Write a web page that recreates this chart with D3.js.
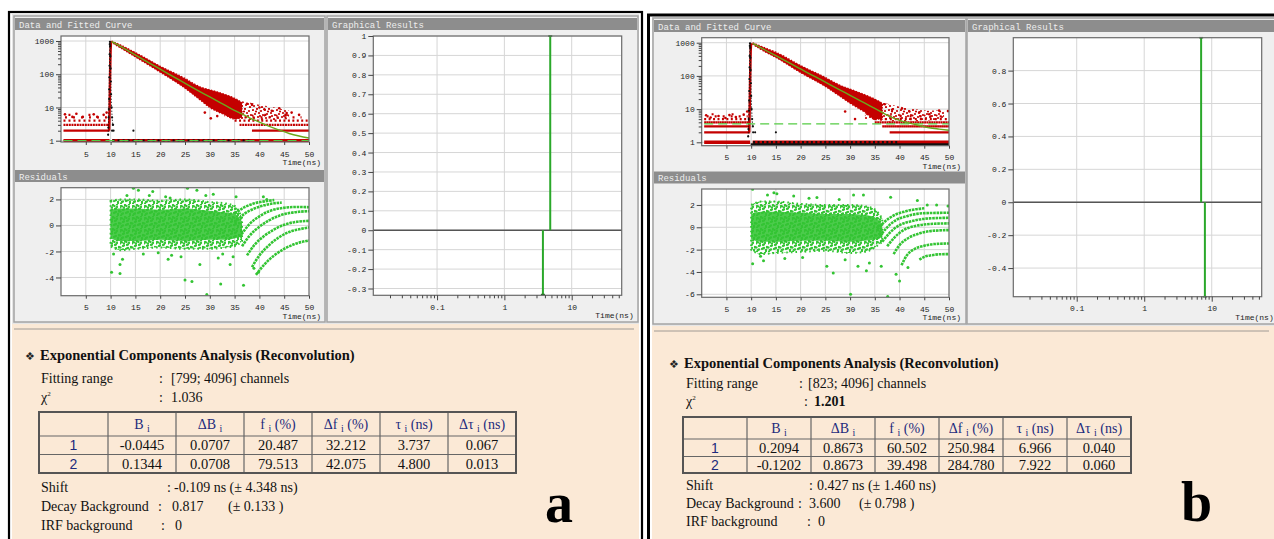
<!DOCTYPE html>
<html>
<head>
<meta charset="utf-8">
<script src="https://cdn.jsdelivr.net/npm/d3@7"></script>
<style>
  body { margin: 0; background: #ffffff; }
  svg { display: block; }
</style>
</head>
<body>
<div id="chart"></div>
<script>
// tick values shared by both samples
var timeTicks = [5, 10, 15, 20, 25, 30, 35, 40, 45, 50];
var countTicks = [1, 10, 100, 1000];
var countMinorTicks = [2, 3, 4, 5, 6, 7, 8, 9, 20, 30, 40, 50, 60, 70, 80, 90, 200, 300, 400, 500, 600, 700, 800, 900];
var lifeTicks = [0.1, 1, 10];
var lifeMinorTicks = [0.02, 0.03, 0.04, 0.05, 0.06, 0.07, 0.08, 0.09, 0.2, 0.3, 0.4, 0.5, 0.6, 0.7, 0.8, 0.9,
  2, 3, 4, 5, 6, 7, 8, 9, 20, 30, 40, 50];
var tableHeads = [["B", "i", ""], ["\u0394B", "i", ""], ["f", "i", " (%)"], ["\u0394f", "i", " (%)"], ["\u03c4", "i", " (ns)"], ["\u0394\u03c4", "i", " (ns)"]];

// ---------- sample a ----------
var fitTimeA = [10.2, 11, 12, 14, 16, 18, 20, 22, 24, 26, 28, 30, 32, 34, 36, 38, 40, 42, 44, 46, 48, 50];
var fitCountA = [950, 832, 684, 461, 311, 210, 142, 96, 65, 44, 30, 20.7, 14.2, 9.8, 6.9, 4.9, 3.6, 2.7, 2.1, 1.65, 1.38, 1.2];
var cloudTimeA = [10.2, 12, 15, 20, 25, 28, 30, 33, 35, 36.5];
var cloudHighA = [1000, 760, 450, 175, 75, 42, 34, 25, 19, 14];
var cloudLowA = [900, 620, 330, 115, 38, 17, 10, 6, 4.5, 5];
var sparseTimeA = [33, 36, 38, 40, 43, 46];
var sparseHighA = [22, 16, 14, 12, 10, 8];
var sparseLowA = [5, 4.5, 4.2, 4.2, 4.2, 4.5];
var riseTimeA = [9.7, 9.75, 9.8, 9.85, 9.9, 9.95, 10.0, 10.05, 10.1, 10.2];
var riseCountA = [2, 4, 10, 30, 100, 280, 560, 800, 920, 960];
var irfTimeA = [9.5, 9.55, 9.6, 9.65, 9.7, 9.72, 9.75, 9.78, 9.8, 9.83, 9.86, 9.9, 9.95, 10.0, 10.05, 10.1, 10.2, 10.3, 10.45];
var irfCountA = [1.5, 2.5, 5, 9, 18, 35, 80, 180, 400, 800, 950, 700, 350, 150, 60, 25, 10, 5, 3];
var rowLevelA = [1, 2, 3, 4, 5, 6, 1, 2, 3, 4, 5, 6];
var rowFromA = [0.5, 0.5, 0.5, 0.5, 0.8, 1.5, 10.3, 38.5, 36, 35, 37, 41];
var rowToA = [9.8, 9.8, 9.8, 9.7, 9.5, 8, 50, 50, 50, 50, 48.5, 46];
var rowFillA = [1, 1, 0.75, 0.4, 0.25, 0.1, 1, 1, 0.75, 0.45, 0.25, 0.1];
var blackRowLevelA = [1];
var blackRowFromA = [10.4];
var blackRowToA = [38];
var blackRowFillA = [0.4];
var redDotsA = [[0.8, 6.2], [2.3, 5.2], [3.1, 6.5], [4.4, 5.2], [6.6, 6.2], [7.3, 5.2], [8.6, 6], [9.2, 7], [29, 7],
  [30.2, 4.7], [31.5, 5.5], [33, 7.5], [34.3, 16], [36, 11], [37.5, 13], [38.5, 12], [40, 10], [41, 8.8],
  [42.5, 8], [44, 9.5], [45.5, 6.8], [46.5, 7], [48, 6]];
var blackDotsA = [[10.3, 2], [10.6, 2], [14.6, 2], [10.5, 3]];
var residTimeA = [10, 12, 15, 20, 25, 30, 33, 35, 36.5];
var residHighA = [1.9, 2.0, 2.0, 1.9, 2.0, 1.8, 1.7, 1.5, 0.6];
var residLowA = [-1.6, -1.9, -1.8, -1.7, -1.8, -1.8, -1.7, -1.6, -1.2];
var residCoreHighA = [1.2, 1.3, 1.3, 1.2, 1.3, 1.1, 1.0, 0.9, 0.3];
var residCoreLowA = [-1.0, -1.2, -1.2, -1.1, -1.2, -1.1, -1.1, -1.0, -0.8];
var residDotsA = [[10.2, -3.6], [11.9, -3.0], [11.9, -3.7], [12.4, -2.6], [10.6, -2.2], [25.0, -4.2], [26.4, -4.3],
  [32.2, -4.5], [29.4, -5.3], [36.8, -4.6], [14.6, 2.85], [25.5, 2.85], [15.6, 2.7], [18.5, 2.6], [21.1, 2.2],
  [22, 2.1], [27.4, 2.7], [30.7, 2.4], [35.3, 2.2], [40.8, 2.2], [41.5, 2.0], [16.6, -2.2], [21.6, -2.6],
  [22.3, -2.3], [28, -3.0], [31.7, -2.5], [32.6, -2.2], [34.1, -3.0], [34.7, -2.4], [13.3, 2.3], [19.6, -2.1],
  [24.2, -2.4], [17.8, 2.3], [29.2, 2.3], [38.9, -3.3], [39.8, -3.6]];
var residArcsA = [
  [[35, 0.9], [37, 1.4], [39, 1.7], [41, 1.85], [43, 1.95]],
  [[35, 0.2], [37, 0.9], [39, 1.3], [41, 1.55], [43, 1.7], [44.5, 1.75]],
  [[36, -0.9], [38, 0.1], [40, 0.7], [42, 1.1], [44, 1.3], [46, 1.4], [48, 1.42], [50, 1.4]],
  [[36.5, -1.6], [38, -0.8], [40, -0.1], [42, 0.4], [44, 0.75], [46, 0.95], [48, 1.05], [50, 1.1]],
  [[37.5, -2.3], [39, -1.5], [41, -0.8], [43, -0.3], [45, 0.05], [47, 0.25], [50, 0.35]],
  [[38.5, -3.2], [40, -2.3], [42, -1.5], [44, -0.9], [46, -0.5], [48, -0.3], [50, -0.15]],
  [[39.3, -3.8], [41, -3.0], [43, -2.3], [45, -1.8], [47, -1.45], [50, -1.15]]
];
var residTicksA = [-4, -2, 0, 2];
var ampA = [-0.0445, 0.1344];
var dAmpA = [0.0707, 0.0708];
var fracA = [20.487, 79.513];
var dFracA = [32.212, 42.075];
var tauA = [3.737, 4.800];
var dTauA = [0.067, 0.013];
var ampTicksA = [-0.3, -0.2, -0.1, 0, 0.1, 0.2, 0.3, 0.4, 0.5, 0.6, 0.7, 0.8, 0.9, 1];
var fitRangeA = [799, 4096];
var chiA = 1.036;
var shiftA = [-0.109, 4.348];
var backgroundA = [0.817, 0.133];
var irfBackgroundA = 0;

// ---------- sample b ----------
var fitTimeB = [10.3, 11, 12, 14, 16, 18, 20, 22, 24, 26, 28, 30, 32, 34, 36, 38, 40, 42, 44, 46, 48, 50];
var fitCountB = [950, 840, 700, 485, 337, 234, 162, 112, 78, 54, 37.6, 26, 18.1, 12.5, 8.7, 6.0, 4.6, 3.8, 3.2, 2.75, 2.5, 2.3];
var cloudTimeB = [10.3, 12, 15, 20, 25, 28, 30, 33, 35, 36.5];
var cloudHighB = [1000, 780, 520, 205, 90, 52, 40, 27, 20, 15];
var cloudLowB = [900, 620, 360, 125, 48, 24, 15, 8, 5, 5];
var sparseTimeB = [33, 36, 38, 40, 43, 46, 49];
var sparseHighB = [24, 17, 14, 12, 10, 9, 9];
var sparseLowB = [5, 4.5, 4.2, 4.2, 4.2, 4.5, 5];
var riseTimeB = [9.6, 9.65, 9.7, 9.75, 9.8, 9.85, 9.9, 9.95, 10.0, 10.1];
var riseCountB = [2, 4, 10, 30, 100, 280, 560, 800, 920, 960];
var irfTimeB = [9.4, 9.45, 9.5, 9.55, 9.6, 9.62, 9.65, 9.68, 9.7, 9.73, 9.76, 9.8, 9.85, 9.9, 9.95, 10.0, 10.1, 10.2, 10.35];
var irfCountB = [1.5, 2.5, 5, 9, 18, 35, 80, 180, 400, 800, 950, 700, 350, 150, 60, 25, 10, 5, 3];
var rowLevelB = [1, 2, 3, 4, 5, 6, 7, 1, 2, 3, 4, 5, 6];
var rowFromB = [0.5, 0.5, 0.5, 0.5, 0.5, 1, 2, 10.3, 38, 36.5, 35, 35, 38];
var rowToB = [9.8, 9.8, 9.8, 9.8, 9.5, 9.3, 8.5, 50, 50, 50, 50, 50, 50];
var rowFillB = [1, 1, 1, 0.9, 0.45, 0.25, 0.1, 1, 1, 0.95, 0.85, 0.4, 0.2];
var blackRowLevelB = [1, 0];
var blackRowFromB = [10.4, 9.9];
var blackRowToB = [40, 50];
var blackRowFillB = [0.45, 1];
var redDotsB = [[0.9, 6.5], [1.8, 5.6], [3.4, 6.2], [4.8, 5.4], [5.6, 6.6], [6.9, 5.8], [8.5, 6.8], [9.2, 8.5],
  [29, 8.5], [31, 5], [33, 22], [35.5, 12], [37, 14], [38.5, 9.5], [40.5, 10.5], [42, 8.5], [44, 8], [46, 7],
  [48, 9], [49.8, 8.7]];
var blackDotsB = [[10.4, 2], [10.8, 2], [15, 2]];
var residTimeB = [10, 12, 15, 20, 25, 30, 33, 35, 36.5];
var residHighB = [2.0, 2.3, 2.3, 2.1, 2.0, 2.0, 1.9, 1.6, 0.8];
var residLowB = [-2.0, -2.4, -2.3, -2.2, -2.1, -2.3, -2.2, -1.8, -1.3];
var residCoreHighB = [1.2, 1.4, 1.4, 1.3, 1.2, 1.2, 1.1, 0.9, 0.3];
var residCoreLowB = [-1.1, -1.3, -1.3, -1.2, -1.2, -1.3, -1.2, -1.1, -0.9];
var residDotsB = [[10.3, 3.4], [13.3, 2.9], [14.6, 3.1], [15.2, 3.0], [18.6, 2.8], [23.3, 2.66], [30.7, 2.9],
  [32.7, 2.9], [10.3, -3.26], [11.9, -2.6], [25.3, -3.5], [26.6, -4.1], [30.1, -6.0], [31.6, -3.5], [33.3, -3.9],
  [33.9, -3.2], [36.3, -3.5], [37.6, -6.2], [39.3, -4.2], [40, -4.8], [41.7, -3.6], [38.2, 2.7], [43.6, 2.4],
  [45.6, 2.0], [12.5, -3.0], [16.8, -2.8], [20.4, -2.7], [27.8, 2.5], [21.7, 2.6], [29, -2.9], [47.5, 2.0], [49.8, 1.9]];
var residArcsB = [
  [[35.5, -0.2], [37, 0.5], [39, 1.1], [41, 1.4], [43, 1.6], [45, 1.7]],
  [[36, -0.8], [37.5, 0], [39.5, 0.7], [41.5, 1.0], [43.5, 1.2], [46, 1.28], [50, 1.3]],
  [[36.5, -1.3], [38, -0.5], [40, 0.2], [42, 0.5], [44, 0.7], [46, 0.8], [50, 0.85]],
  [[37.5, -1.7], [39, -0.9], [41, -0.2], [43, 0.1], [45, 0.25], [47, 0.32], [50, 0.35]],
  [[38.8, -2.4], [40, -1.6], [42, -0.9], [44, -0.55], [46, -0.35], [48, -0.28], [50, -0.25]],
  [[40.4, -3.4], [41.5, -2.5], [43, -1.95], [45, -1.65], [47, -1.5], [50, -1.45]],
  [[44, -2.9], [45, -2.65], [46.5, -2.5], [48, -2.42], [50, -2.4]]
];
var residTicksB = [-6, -4, -2, 0, 2];
var ampB = [0.2094, -0.1202];
var dAmpB = [0.8673, 0.8673];
var fracB = [60.502, 39.498];
var dFracB = [250.984, 284.780];
var tauB = [6.966, 7.922];
var dTauB = [0.040, 0.060];
var ampTicksB = [-0.4, -0.2, 0, 0.2, 0.4, 0.6, 0.8];
var fitRangeB = [823, 4096];
var chiB = 1.201;
var shiftB = [0.427, 1.460];
var backgroundB = [3.600, 0.798];
var irfBackgroundB = 0;

// colours and fonts
var mono = "'Liberation Mono', 'Courier New', monospace";
var serif = "'Liberation Serif', 'Times New Roman', serif";
var red = "#c40000";
var green = "#33c433";
var navy = "#1d2b7d";

// layout of the two screenshots
var panels = [
  {
    id: "a",
    frame: { x: 9, y: 12, w: 633, sw: 2.2 },
    inner: { x: 12, y: 14, w: 627, h: 310 },
    panes: [{ x: 14, y: 16, w: 311, h: 306 }, { x: 327, y: 16, w: 311, h: 306 }],
    bars: [{ x: 15, y: 18, w: 309, t: "Data and Fitted Curve" }, { x: 15, y: 170, w: 309, t: "Residuals" },
      { x: 328, y: 18, w: 309, t: "Graphical Results" }],
    decay: { x0: 61, x1: 309, y0: 36, y1: 142 }, decayDomain: [0.914, 1414],
    resid: { x0: 61, x1: 309, y0: 187.7, y1: 295.7 }, residDomain: [-5.4, 2.9],
    graph: { x0: 373.3, x1: 621.7, y0: 36, y1: 295.3 }, lifeDomain: [0.0113, 55.3], ampDomain: [-0.335, 1],
    beige: { x: 12, y: 324, w: 627, h: 215, lineY: 329 },
    text: { bullet: 25, head: 40, x: 41, headY: 360, fitY: 383, chiY: 402, shiftY: 492, bgY: 511, irfY: 530,
      colon: [159, 159, 167, 158, 161], val: [171, 171, 174, 172, 175], errX: 228, chiBold: false,
      table: { x: 39, y: 412, first: 69, col: 68, rowH: [24, 18.5, 18.5] }, letter: { x: 545, y: 522 } },
    fitTime: fitTimeA, fitCount: fitCountA, cloudTime: cloudTimeA, cloudHigh: cloudHighA, cloudLow: cloudLowA,
    sparseTime: sparseTimeA, sparseHigh: sparseHighA, sparseLow: sparseLowA,
    riseTime: riseTimeA, riseCount: riseCountA, irfTime: irfTimeA, irfCount: irfCountA,
    rowLevel: rowLevelA, rowFrom: rowFromA, rowTo: rowToA, rowFill: rowFillA,
    blackLevel: blackRowLevelA, blackFrom: blackRowFromA, blackTo: blackRowToA, blackFill: blackRowFillA,
    redDots: redDotsA, blackDots: blackDotsA,
    residTime: residTimeA, residHigh: residHighA, residLow: residLowA, coreHigh: residCoreHighA, coreLow: residCoreLowA,
    residDots: residDotsA, arcs: residArcsA, residTicks: residTicksA,
    amp: ampA, dAmp: dAmpA, frac: fracA, dFrac: dFracA, tau: tauA, dTau: dTauA, ampTicks: ampTicksA,
    fitRange: fitRangeA, chi: chiA, shift: shiftA, background: backgroundA, irfBackground: irfBackgroundA
  },
  {
    id: "b",
    frame: { x: 648.5, y: 15, w: 640, sw: 3 },
    inner: { x: 652, y: 17, w: 622, h: 309 },
    panes: [{ x: 653, y: 18, w: 313, h: 306 }, { x: 967, y: 18, w: 310, h: 306 }],
    bars: [{ x: 654, y: 20, w: 311, t: "Data and Fitted Curve" }, { x: 654, y: 171.5, w: 311, t: "Residuals" },
      { x: 968, y: 20, w: 310, t: "Graphical Results" }],
    decay: { x0: 701.7, x1: 949, y0: 37.7, y1: 145.7 }, decayDomain: [0.79, 1415],
    resid: { x0: 701.7, x1: 949, y0: 189, y1: 297.3 }, residDomain: [-6.27, 3.43],
    graph: { x0: 1013.3, x1: 1261.7, y0: 37.7, y1: 296.7 }, lifeDomain: [0.0115, 55], ampDomain: [-0.574, 1],
    beige: { x: 652, y: 326, w: 622, h: 213, lineY: 331 },
    text: { bullet: 669, head: 684, x: 686, headY: 368, fitY: 388, chiY: 406, shiftY: 490, bgY: 508, irfY: 526,
      colon: [799, 804, 809, 798, 807], val: [808, 814, 817, 809, 818], errX: 859, chiBold: true,
      table: { x: 683, y: 417, first: 64, col: 64, rowH: [22, 17.5, 16.5] }, letter: { x: 1181, y: 521 } },
    fitTime: fitTimeB, fitCount: fitCountB, cloudTime: cloudTimeB, cloudHigh: cloudHighB, cloudLow: cloudLowB,
    sparseTime: sparseTimeB, sparseHigh: sparseHighB, sparseLow: sparseLowB,
    riseTime: riseTimeB, riseCount: riseCountB, irfTime: irfTimeB, irfCount: irfCountB,
    rowLevel: rowLevelB, rowFrom: rowFromB, rowTo: rowToB, rowFill: rowFillB,
    blackLevel: blackRowLevelB, blackFrom: blackRowFromB, blackTo: blackRowToB, blackFill: blackRowFillB,
    redDots: redDotsB, blackDots: blackDotsB,
    residTime: residTimeB, residHigh: residHighB, residLow: residLowB, coreHigh: residCoreHighB, coreLow: residCoreLowB,
    residDots: residDotsB, arcs: residArcsB, residTicks: residTicksB,
    amp: ampB, dAmp: dAmpB, frac: fracB, dFrac: dFracB, tau: tauB, dTau: dTauB, ampTicks: ampTicksB,
    fitRange: fitRangeB, chi: chiB, shift: shiftB, background: backgroundB, irfBackground: irfBackgroundB
  }
];

var svg = d3.select("#chart").append("svg")
  .attr("width", 1274)
  .attr("height", 539)
  .style("font-family", serif);

// speckle fills for the scattered point clouds (irregular dots in a 12px tile)
var defs = svg.append("defs");
var tileDots = [[1, 2], [5, 1], [9, 3], [3, 6], [7, 5], [11, 7], [2, 10], [6, 9], [10, 11], [4, 3.5], [8, 8], [0.5, 7.5]];
function speckle(id, color, r, dense) {
  var pat = defs.append("pattern").attr("id", id).attr("patternUnits", "userSpaceOnUse")
    .attr("width", 12).attr("height", 12);
  var pts = dense ? tileDots.concat(tileDots.map(d => [(d[0] + 6) % 12, (d[1] + 6.5) % 12])) : tileDots;
  pat.selectAll("circle").data(pts).join("circle")
    .attr("cx", d => d[0]).attr("cy", d => d[1]).attr("r", r).attr("fill", color);
}
speckle("speckGreen", green, 1.15, true);
speckle("speckRed", red, 1.1, false);

// dash pattern from how densely a row of counts is filled
function dashFor(f) {
  return f >= 1 ? null : "2," + (2 * (1 - f) / f).toFixed(2);
}

function tidy(axisG) {
  axisG.select(".domain").remove();
  axisG.selectAll(".tick line").attr("stroke", "#444");
  axisG.selectAll(".tick text").attr("font-family", mono).attr("font-size", 8).attr("fill", "#222");
  return axisG;
}

// white plot area, grid and clip
function plotBox(g, b, clipId, xs, ys, x, y) {
  g.append("rect").attr("x", b.x0).attr("y", b.y0).attr("width", b.x1 - b.x0).attr("height", b.y1 - b.y0)
    .attr("fill", "#ffffff");
  g.append("clipPath").attr("id", clipId).append("rect")
    .attr("x", b.x0).attr("y", b.y0).attr("width", b.x1 - b.x0).attr("height", b.y1 - b.y0);
  g.append("g").selectAll("line").data(xs).join("line")
    .attr("x1", d => x(d)).attr("x2", d => x(d)).attr("y1", b.y0).attr("y2", b.y1)
    .attr("stroke", "#d6d6d6");
  g.append("g").selectAll("line").data(ys).join("line")
    .attr("x1", b.x0).attr("x2", b.x1).attr("y1", d => y(d)).attr("y2", d => y(d))
    .attr("stroke", "#d6d6d6");
}

function plotBorder(g, b) {
  g.append("rect").attr("x", b.x0).attr("y", b.y0).attr("width", b.x1 - b.x0).attr("height", b.y1 - b.y0)
    .attr("fill", "none").attr("stroke", "#6a6a6a").attr("stroke-width", 1.2);
}

function timeLabel(g, b) {
  g.append("text").attr("x", b.x1 + 12).attr("y", b.y1 + 23).attr("text-anchor", "end")
    .attr("font-family", mono).attr("font-size", 8).attr("fill", "#222").text("Time(ns)");
}

function timeAxis(g, b, x) {
  tidy(g.append("g").attr("transform", `translate(0, ${b.y1})`)
    .call(d3.axisBottom(x).tickValues(timeTicks).tickSize(3).tickPadding(6).tickFormat(d => String(d))));
  timeLabel(g, b);
}

function drawRows(g, x, y, b, levels, from, to, fill, color, width) {
  g.append("g").selectAll("line").data(d3.range(levels.length)).join("line")
    .attr("x1", i => x(from[i])).attr("x2", i => x(to[i]))
    .attr("y1", i => levels[i] === 0 ? b.y1 - 1 : y(levels[i]))
    .attr("y2", i => levels[i] === 0 ? b.y1 - 1 : y(levels[i]))
    .attr("stroke", color)
    .attr("stroke-width", i => levels[i] <= 1 ? width + 1.2 : width)
    .attr("stroke-dasharray", i => dashFor(fill[i]));
}

// Data and Fitted Curve
function drawDecay(g, p) {
  var b = p.decay;
  var x = d3.scaleLinear().domain([0, 50]).range([b.x0, b.x1]);
  var y = d3.scaleLog().domain(p.decayDomain).range([b.y1, b.y0]);
  var clipId = "clipDecay" + p.id;
  plotBox(g, b, clipId, timeTicks.slice(0, -1), countTicks, x, y);
  var c = g.append("g").attr("clip-path", `url(#${clipId})`);

  drawRows(c, x, y, b, p.rowLevel, p.rowFrom, p.rowTo, p.rowFill, red, 2.2);

  // decay cloud between the lowest and highest counts read in each slice
  var area = d3.area().x(d => x(d[0])).y0(d => y(d[1])).y1(d => y(d[2])).curve(d3.curveMonotoneX);
  c.append("path").datum(p.sparseTime.map((t, i) => [t, p.sparseLow[i], p.sparseHigh[i]])).attr("d", area)
    .attr("fill", "url(#speckRed)");
  c.append("path").datum(p.cloudTime.map((t, i) => [t, p.cloudLow[i], p.cloudHigh[i]])).attr("d", area)
    .attr("fill", red).attr("stroke", red).attr("stroke-width", 1.2).attr("stroke-dasharray", "1.5,1.5");
  c.append("g").selectAll("circle").data(p.redDots).join("circle")
    .attr("cx", d => x(d[0])).attr("cy", d => y(d[1])).attr("r", 1.3).attr("fill", red);

  // rising edge of the decay
  var rise = p.riseTime.map((t, i) => [t, p.riseCount[i]]);
  c.append("path").datum(rise).attr("d", d3.line().x(d => x(d[0])).y(d => y(d[1])))
    .attr("fill", "none").attr("stroke", red).attr("stroke-width", 2.5);

  // instrument response
  drawRows(c, x, y, b, p.blackLevel, p.blackFrom, p.blackTo, p.blackFill, "#111", 1.6);
  var irf = p.irfTime.map((t, i) => [t, p.irfCount[i]]);
  c.append("g").selectAll("circle").data(irf).join("circle")
    .attr("cx", d => x(d[0])).attr("cy", d => y(d[1])).attr("r", 1.1).attr("fill", "#111");
  c.append("path").datum(irf).attr("d", d3.line().x(d => x(d[0])).y(d => y(d[1])))
    .attr("fill", "none").attr("stroke", "#111").attr("stroke-width", 0.8).attr("stroke-dasharray", "1.5,1.5");
  c.append("g").selectAll("circle").data(p.blackDots).join("circle")
    .attr("cx", d => x(d[0])).attr("cy", d => y(d[1])).attr("r", 1.1).attr("fill", "#111");

  // background level (dashed) and fitted curve
  var yc = y.copy().clamp(true);
  var bgY = Math.min(yc(p.background[0]), b.y1 - 1.5);
  c.append("line").attr("x1", x(0.5)).attr("x2", x(50)).attr("y1", bgY).attr("y2", bgY)
    .attr("stroke", "#55cc44").attr("stroke-width", 1.2).attr("stroke-dasharray", "9,5");
  var fit = p.fitTime.map((t, i) => [t, p.fitCount[i]]);
  c.append("path").datum(fit).attr("d", d3.line().x(d => x(d[0])).y(d => y(d[1])).curve(d3.curveMonotoneX))
    .attr("fill", "none").attr("stroke", "#6aa81c").attr("stroke-width", 1.4);

  plotBorder(g, b);
  tidy(g.append("g").attr("transform", `translate(${b.x0}, 0)`)
    .call(d3.axisLeft(y).tickValues(countMinorTicks).tickSize(3).tickFormat("")));
  tidy(g.append("g").attr("transform", `translate(${b.x0}, 0)`)
    .call(d3.axisLeft(y).tickValues(countTicks).tickSize(5).tickPadding(2).tickFormat(d => String(d))));
  timeAxis(g, b, x);
}

// Residuals
function drawResid(g, p) {
  var b = p.resid;
  var x = d3.scaleLinear().domain([0, 50]).range([b.x0, b.x1]);
  var y = d3.scaleLinear().domain(p.residDomain).range([b.y1, b.y0]);
  var clipId = "clipResid" + p.id;
  plotBox(g, b, clipId, timeTicks.slice(0, -1), p.residTicks, x, y);
  var c = g.append("g").attr("clip-path", `url(#${clipId})`);

  var area = d3.area().x(d => x(d[0])).y0(d => y(d[1])).y1(d => y(d[2])).curve(d3.curveMonotoneX);
  c.append("path").datum(p.residTime.map((t, i) => [t, p.residLow[i], p.residHigh[i]])).attr("d", area)
    .attr("fill", "url(#speckGreen)")
    .attr("stroke", green).attr("stroke-width", 2).attr("stroke-dasharray", "1.6,3");
  c.append("path").datum(p.residTime.map((t, i) => [t, p.coreLow[i], p.coreHigh[i]])).attr("d", area)
    .attr("fill", green).attr("fill-opacity", 0.88);

  var line = d3.line().x(d => x(d[0])).y(d => y(d[1])).curve(d3.curveMonotoneX);
  c.append("g").selectAll("path").data(p.arcs).join("path")
    .attr("d", line).attr("fill", "none").attr("stroke", green)
    .attr("stroke-width", 2.6).attr("stroke-dasharray", "2.6,0.8");
  c.append("g").selectAll("circle").data(p.residDots).join("circle")
    .attr("cx", d => x(d[0])).attr("cy", d => y(d[1])).attr("r", 1.5).attr("fill", green);

  plotBorder(g, b);
  tidy(g.append("g").attr("transform", `translate(${b.x0}, 0)`)
    .call(d3.axisLeft(y).tickValues(p.residTicks).tickSize(5).tickPadding(2).tickFormat(d => String(d))));
  timeAxis(g, b, x);
}

// Graphical Results: normalised amplitude of each lifetime component
function drawGraph(g, p) {
  var b = p.graph;
  var x = d3.scaleLog().domain(p.lifeDomain).range([b.x0, b.x1]);
  var y = d3.scaleLinear().domain(p.ampDomain).range([b.y1, b.y0]);
  plotBox(g, b, "clipGraph" + p.id, lifeTicks, p.ampTicks, x, y);

  g.append("line").attr("x1", b.x0).attr("x2", b.x1).attr("y1", y(0)).attr("y2", y(0))
    .attr("stroke", "#555").attr("stroke-width", 1.3);

  var maxAmp = d3.max(p.amp);
  var comps = p.tau.map((t, i) => ({ tau: t, h: p.amp[i] / maxAmp }));
  g.append("g").selectAll("line").data(comps).join("line")
    .attr("x1", d => x(d.tau)).attr("x2", d => x(d.tau)).attr("y1", y(0)).attr("y2", d => y(d.h))
    .attr("stroke", "#2aa82a").attr("stroke-width", 2);
  g.append("g").selectAll("line").data(comps).join("line")
    .attr("x1", d => x(d.tau) - 2).attr("x2", d => x(d.tau) + 2).attr("y1", d => y(d.h)).attr("y2", d => y(d.h))
    .attr("stroke", "#1d6d1d").attr("stroke-width", 1.5);

  plotBorder(g, b);
  tidy(g.append("g").attr("transform", `translate(${b.x0}, 0)`)
    .call(d3.axisLeft(y).tickValues(p.ampTicks).tickSize(5).tickPadding(2)
      .tickFormat(d => String(+d.toFixed(1)))));
  tidy(g.append("g").attr("transform", `translate(0, ${b.y1})`)
    .call(d3.axisBottom(x).tickValues(lifeMinorTicks).tickSize(3).tickFormat("")));
  tidy(g.append("g").attr("transform", `translate(0, ${b.y1})`)
    .call(d3.axisBottom(x).tickValues(lifeTicks).tickSize(5).tickPadding(4).tickFormat(d => String(d))));
  timeLabel(g, b);
}

// report block under the plots
function drawReport(g, p) {
  var t = p.text;
  var fs = 14;
  g.append("text").attr("x", t.bullet).attr("y", t.headY).attr("font-family", "'DejaVu Sans', sans-serif")
    .attr("font-size", 11).attr("fill", "#222").text("\u2756");
  g.append("text").attr("x", t.head).attr("y", t.headY).attr("font-size", 14.5).attr("font-weight", "bold")
    .attr("fill", "#111").text("Exponential Components Analysis (Reconvolution)");

  var lines = [
    { y: t.fitY, label: "Fitting range", value: "[" + p.fitRange[0] + "; " + p.fitRange[1] + "] channels" },
    { y: t.chiY, label: "", value: p.chi.toFixed(3), bold: t.chiBold },
    { y: t.shiftY, label: "Shift", value: p.shift[0].toFixed(3) + " ns (\u00b1 " + p.shift[1].toFixed(3) + " ns)" },
    { y: t.bgY, label: "Decay Background", value: p.background[0].toFixed(3) },
    { y: t.irfY, label: "IRF background", value: String(p.irfBackground) }
  ];
  lines.forEach(function (l, i) {
    g.append("text").attr("x", t.x).attr("y", l.y).attr("font-size", fs).attr("fill", "#111").text(l.label);
    g.append("text").attr("x", t.colon[i]).attr("y", l.y).attr("font-size", fs).attr("fill", "#111").text(":");
    g.append("text").attr("x", t.val[i]).attr("y", l.y).attr("font-size", fs).attr("fill", "#111")
      .attr("font-weight", l.bold ? "bold" : null).text(l.value);
  });
  var chi = g.append("text").attr("x", t.x).attr("y", t.chiY).attr("font-size", fs).attr("fill", "#111");
  chi.append("tspan").text("\u03c7");
  chi.append("tspan").attr("font-size", 7).attr("dy", -6).text("2");
  g.append("text").attr("x", t.errX).attr("y", t.bgY).attr("font-size", fs).attr("fill", "#111")
    .text("(\u00b1 " + p.background[1].toFixed(3) + " )");

  // component table
  var tb = t.table;
  var colX = [tb.x, tb.x + tb.first];
  for (var k = 1; k <= 6; k++) colX.push(tb.x + tb.first + k * tb.col);
  var rowY = [tb.y];
  tb.rowH.forEach(h => rowY.push(rowY[rowY.length - 1] + h));
  var tg = g.append("g");
  tg.selectAll(".hl").data(rowY).join("line")
    .attr("x1", colX[0]).attr("x2", colX[7]).attr("y1", d => d).attr("y2", d => d)
    .attr("stroke", "#666").attr("stroke-width", 1.2);
  tg.selectAll(".vl").data(colX).join("line")
    .attr("x1", d => d).attr("x2", d => d).attr("y1", rowY[0]).attr("y2", rowY[3])
    .attr("stroke", "#666").attr("stroke-width", 1.2);
  tg.append("rect").attr("x", colX[0]).attr("y", rowY[0]).attr("width", colX[7] - colX[0])
    .attr("height", rowY[3] - rowY[0]).attr("fill", "none").attr("stroke", "#555").attr("stroke-width", 2);

  tableHeads.forEach(function (h, j) {
    var cx = (colX[j + 1] + colX[j + 2]) / 2;
    var tx = tg.append("text").attr("x", cx).attr("y", (rowY[0] + rowY[1]) / 2 + 5)
      .attr("text-anchor", "middle").attr("font-size", 14).attr("fill", navy);
    tx.append("tspan").text(h[0] + " ");
    tx.append("tspan").attr("font-size", 10).attr("dy", 3).text(h[1]);
    tx.append("tspan").attr("dy", -3).text(h[2]);
  });
  var cols = [p.amp.map(v => v.toFixed(4)), p.dAmp.map(v => v.toFixed(4)), p.frac.map(v => v.toFixed(3)),
    p.dFrac.map(v => v.toFixed(3)), p.tau.map(v => v.toFixed(3)), p.dTau.map(v => v.toFixed(3))];
  [0, 1].forEach(function (r) {
    var cy = (rowY[r + 1] + rowY[r + 2]) / 2 + 5;
    tg.append("text").attr("x", (colX[0] + colX[1]) / 2).attr("y", cy).attr("text-anchor", "middle")
      .attr("font-family", "'Liberation Sans', Arial, sans-serif").attr("font-size", 14).attr("fill", navy)
      .text(r + 1);
    cols.forEach(function (col, j) {
      tg.append("text").attr("x", (colX[j + 1] + colX[j + 2]) / 2).attr("y", cy).attr("text-anchor", "middle")
        .attr("font-size", 14.5).attr("fill", "#111").text(col[r]);
    });
  });

  g.append("text").attr("x", t.letter.x).attr("y", t.letter.y).attr("font-size", 56).attr("font-weight", "bold")
    .attr("fill", "#000").text(p.id);
}

panels.forEach(function (p) {
  var g = svg.append("g");
  // window background, beige report area and black frame
  g.append("rect").attr("x", p.inner.x).attr("y", p.inner.y).attr("width", p.inner.w).attr("height", p.inner.h)
    .attr("fill", "#e6e6e6");
  g.append("rect").attr("x", p.beige.x).attr("y", p.beige.y).attr("width", p.beige.w).attr("height", p.beige.h)
    .attr("fill", "#fbe9d6");
  g.append("line").attr("x1", p.beige.x + 2).attr("x2", p.beige.x + p.beige.w - 5)
    .attr("y1", p.beige.lineY).attr("y2", p.beige.lineY).attr("stroke", "#a09a94");
  p.panes.forEach(function (q) {
    g.append("rect").attr("x", q.x).attr("y", q.y).attr("width", q.w).attr("height", q.h)
      .attr("fill", "#efefef").attr("stroke", "#a4a4a4").attr("stroke-width", 1.5);
  });
  p.bars.forEach(function (q) {
    g.append("rect").attr("x", q.x).attr("y", q.y).attr("width", q.w).attr("height", 12).attr("fill", "#8d8d8d");
    g.append("text").attr("x", q.x + 4).attr("y", q.y + 9.5).attr("font-family", mono).attr("font-size", 9)
      .attr("fill", "#eeeeee").text(q.t);
  });
  g.append("rect").attr("x", p.frame.x).attr("y", p.frame.y).attr("width", p.frame.w).attr("height", 560)
    .attr("fill", "none").attr("stroke", "#000").attr("stroke-width", p.frame.sw);

  drawDecay(g, p);
  drawResid(g, p);
  drawGraph(g, p);
  drawReport(g, p);
});
</script>
</body>
</html>
